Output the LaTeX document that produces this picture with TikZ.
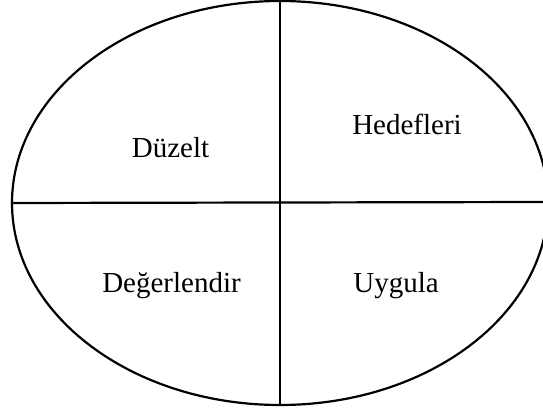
\documentclass[tikz,border=0pt]{standalone}
\usepackage{fontspec}
\setmainfont{Liberation Serif}
\usetikzlibrary{shapes.geometric}
\begin{document}
\begin{tikzpicture}[x=1pt,y=-1pt,
  ring/.style={draw,ellipse,line width=2.2pt,inner sep=0pt,minimum width=536pt,minimum height=404pt},
  divider/.style={line width=2.2pt},
  label/.style={font=\fontsize{29}{34}\selectfont,inner sep=0pt,anchor=base}]
\useasboundingbox (0,0) rectangle (543,411);
\clip (0,0) rectangle (543,411);
\node[ring] (E) at (280,203) {};
\coordinate (R) at (545,202);
\draw[divider] (E.north) -- (E.south);
\draw[divider] (E.west) -- (R);
\node[label] (d) at (170.5,158) {Düzelt};
\node[label] (h) at (407,135) {Hedefleri};
\node[label] (g) at (171.5,293) {Değerlendir};
\node[label] (u) at (396,293) {Uygula};
\end{tikzpicture}
\end{document}
